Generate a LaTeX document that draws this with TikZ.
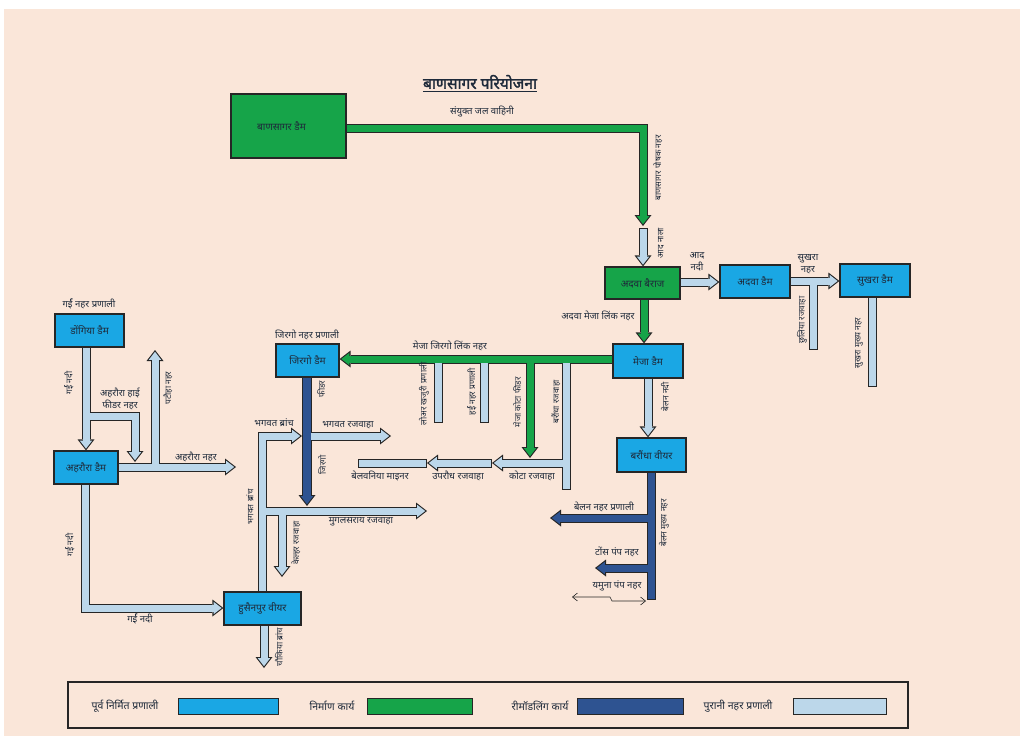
\documentclass[tikz,border=0pt]{standalone}
\usepackage{fontspec}
\newfontfamily\dev[Script=Devanagari]{Noto Sans}
\newfontfamily\devb[Script=Devanagari,FakeBold=2]{Noto Sans}
\usetikzlibrary{arrows.meta,calc}
\pgfdeclarelayer{bg}\pgfdeclarelayer{outl}\pgfdeclarelayer{fg}
\pgfsetlayers{bg,outl,main,fg}
\definecolor{peach}{HTML}{FAE6D9}
\definecolor{boxblue}{HTML}{1AA7E4}
\definecolor{cgreen}{HTML}{16A449}
\definecolor{dblue}{HTML}{2E5391}
\definecolor{lblue}{HTML}{BCD7EA}
\definecolor{edge}{HTML}{262626}
\definecolor{txt}{HTML}{1E2A3A}
\def\cwo{9pt}\def\cwi{7pt}
\tikzset{
  lbl/.style={font=\dev\fontsize{9.5}{12}\selectfont, text=txt, inner sep=0pt, align=center},
  vlbl/.style={font=\dev\fontsize{8.5}{10}\selectfont, text=txt, inner sep=0pt, rotate=90},
  dam/.style={draw=edge, line width=1.2pt, fill=boxblue, font=\dev\fontsize{10}{12}\selectfont, text=txt, inner sep=0pt},
  leglbl/.style={font=\dev\fontsize{10.5}{12}\selectfont, text=txt, inner sep=0pt},
  swatch/.style={draw=edge, line width=1pt, minimum width=#1, minimum height=16pt, inner sep=0pt},
  canalout/.style={draw=edge, line width=\cwo},
  canalin/.style={line width=\cwi},
  aout/.style={-{Triangle[width=17pt,length=11pt,line width=0pt]}},
  ain/.style={-{Triangle[width=12.4pt,length=8pt,line width=0pt]}, shorten >=1.8pt},
}
% #1 inner-only options, #2 colour, #3 path
\newcommand\cflat[3][]{%
  \begin{pgfonlayer}{outl}\draw[canalout] #3;\end{pgfonlayer}%
  \draw[canalin,draw=#2,shorten >=1pt,#1] #3;}
\newcommand\carrow[3][]{%
  \begin{pgfonlayer}{outl}\draw[canalout,aout] #3;\end{pgfonlayer}%
  \draw[canalin,draw=#2,ain,#1] #3;}
\begin{document}
\begin{tikzpicture}[x=1pt,y=-1pt]
\begin{pgfonlayer}{bg}
  \fill[white] (0,0) rectangle (1027,736);
  \fill[peach] (4,9) rectangle (1020,736);
\end{pgfonlayer}
\useasboundingbox (0,0) rectangle (1027,736);

% ---------- boxes ----------
\begin{pgfonlayer}{fg}
\node[dam, fill=cgreen, minimum width=115pt, minimum height=64pt] (ban) at (288.5,126) {\hspace*{-14pt}बाणसागर डैम};
\node[dam, fill=cgreen, minimum width=75pt, minimum height=32pt] (adb) at (642.5,283) {अदवा बैराज};
\node[dam, minimum width=70pt, minimum height=33pt] (add) at (755,281.5) {अदवा डैम};
\node[dam, minimum width=70pt, minimum height=33pt] (sud) at (875,280.5) {सुखरा डैम};
\node[dam, minimum width=70pt, minimum height=34pt] (med) at (648,361) {मेजा डैम};
\node[dam, minimum width=69pt, minimum height=34pt] (bw) at (651.5,455) {बरौंधा वीयर};
\node[dam, minimum width=63pt, minimum height=33pt] (jd) at (307.5,360.5) {जिरगो डैम};
\node[dam, minimum width=69pt, minimum height=33pt] (dd) at (89.5,330.5) {डोंगिया डैम};
\node[dam, minimum width=64pt, minimum height=33pt] (ad) at (86,467.5) {अहरौरा डैम};
\node[dam, minimum width=77pt, minimum height=33pt] (hw) at (262.5,608.5) {हुसैनपुर वीयर};
\end{pgfonlayer}

% ---------- coordinates ----------
\coordinate (k1) at (643,128);
\coordinate (k1e) at (643,226);
\coordinate (aad) at (643,228);
\coordinate (c3) at (644,300);
\coordinate (c4) at (700,282);
\coordinate (c5) at (813,281);
\coordinate (c5e) at (813,350);
\coordinate (c6) at (872,387);
\coordinate (c7) at (500,359);
\coordinate (b1) at (438,359); \coordinate (b1e) at (438,423);
\coordinate (b2) at (484,359); \coordinate (b2e) at (484,423);
\coordinate (b3) at (530,359); \coordinate (b3e) at (530,458);
\coordinate (b4) at (566,359); \coordinate (b4e) at (566,490);
\coordinate (kt1) at (566,463); \coordinate (kt2) at (492,463);
\coordinate (up1) at (492,463); \coordinate (up2) at (427,463);
\coordinate (bv1) at (427,463); \coordinate (bv2) at (358,463);
\coordinate (bn) at (648,400);
\coordinate (bm) at (651,600);
\coordinate (bl1) at (651,518); \coordinate (bl2) at (550,518);
\coordinate (tp1) at (651,568); \coordinate (tp2) at (595,568);
\coordinate (y1) at (572,597); \coordinate (y2) at (610,597);
\coordinate (y3) at (612,601); \coordinate (y4) at (646,601);
\coordinate (jc) at (307,506);
\coordinate (bh1) at (262,436); \coordinate (bh2) at (302,436);
\coordinate (br1) at (307,436); \coordinate (br2) at (391,436);
\coordinate (mg1) at (262,511); \coordinate (mg2) at (427,511);
\coordinate (kl1) at (282,511); \coordinate (kl2) at (282,577);
\coordinate (g1) at (86,416); \coordinate (g2) at (135,416); \coordinate (g3) at (135,462);
\coordinate (a1) at (155,467); \coordinate (a1e) at (155,350); \coordinate (a2) at (236,467);
\coordinate (r1) at (85,608);
\coordinate (ch) at (264,668);

% ---------- canals ----------
\carrow{cgreen}{(ban.east |- k1) -- (k1) -- (k1e)}
\carrow[shorten <=1pt]{lblue}{(aad) -- (aad |- adb.north)}
\carrow{cgreen}{(adb.south -| c3) -- (med.north -| c3)}
\carrow{lblue}{(adb.east |- c4) -- (add.west |- c4)}
\carrow{lblue}{(add.east |- c5) -- (sud.west |- c5)}
\cflat{lblue}{(c5) -- (c5e)}
\cflat{lblue}{(sud.south -| c6) -- (c6)}
% Meja - Jirgo link and branches
\cflat{lblue}{(b1) -- (b1e)}
\cflat{lblue}{(b2) -- (b2e)}
\cflat{lblue}{(b4) -- (b4e)}
\carrow{cgreen}{(b3) -- (b3e)}
\carrow{cgreen}{(med.west |- c7) -- (jd.east |- c7)}
\cflat[shorten <=1pt]{lblue}{(bv1) -- (bv2)}
\carrow[shorten <=1pt]{lblue}{(up1) -- (up2)}
\carrow{lblue}{(kt1) -- (kt2)}
% Belan
\carrow{lblue}{(med.south -| bn) -- (bw.north -| bn)}
\carrow{dblue}{(bl1) -- (bl2)}
\carrow{dblue}{(tp1) -- (tp2)}
\cflat{dblue}{(bw.south -| bm) -- (bm)}
\draw[line width=0.6pt, edge, {Straight Barb[length=5pt,width=8pt]}-{Straight Barb[length=5pt,width=8pt]}] (y1) -- (y2) -- (y3) -- (y4);
% Jirgo system
\carrow{lblue}{(hw.north -| bh1) -- (bh1) -- (bh2)}
\carrow{lblue}{(br1) -- (br2)}
\carrow{lblue}{(kl1) -- (kl2)}
\carrow{lblue}{(mg1) -- (mg2)}
\def\cwo{10.5pt}\def\cwi{8.5pt}
\carrow{dblue}{(jd.south -| jc) -- (jc)}
\def\cwo{9pt}\def\cwi{7pt}
\carrow{lblue}{(hw.south -| ch) -- (ch)}
% Garai system
\carrow{lblue}{(g1) -- (g2) -- (g3)}
\carrow{lblue}{(dd.south -| g1) -- (ad.north -| g1)}
\carrow{lblue}{(a1) -- (a1e)}
\carrow{lblue}{(ad.east |- a1) -- (a2)}
\carrow{lblue}{(ad.south -| r1) -- (r1) -- (hw.west |- r1)}

% ---------- labels ----------
\node[font=\devb\fontsize{15.5}{17}\selectfont, text=txt, inner sep=0pt] (title) at (480,82) {बाणसागर परियोजना};
\draw[line width=0.9pt, txt] ([yshift=-2pt]title.south west) -- ([yshift=-2pt]title.south east);
\node[lbl] (l1) at (482,112) {संयुक्त जल वाहिनी};
\node[vlbl] (l2) at (658,168) {बाणसागर पोषक नहर};
\node[vlbl] (l3) at (661,243) {आद नाला};
\node[lbl] (l4) at (697,262) {आद\\नदी};
\node[lbl] (l5) at (808,264) {सुखरा\\नहर};
\node[vlbl] (l6) at (802,320) {छुलिया रजवाहा};
\node[vlbl] (l7) at (859,343) {सुखरा मुख्य नहर};
\node[lbl] (l8) at (598,316) {अदवा मेजा लिंक नहर};
\node[lbl] (l9) at (450,346) {मेजा जिरगो लिंक नहर};
\node[lbl] (l10) at (307,335) {जिरगो नहर प्रणाली};
\node[vlbl] (l11) at (321,389) {फीडर};
\node[vlbl] (l12) at (322,465) {जिरगो};
\node[lbl] (l13) at (274,423) {भगवत ब्रांच};
\node[lbl] (l14) at (348,425) {भगवत रजवाहा};
\node[lbl] (l15) at (380,476) {बेलवनिया माइनर};
\node[lbl] (l16) at (458,476) {उपरौध रजवाहा};
\node[lbl] (l17) at (532,476) {कोटा रजवाहा};
\node[vlbl] (l18) at (424,394) {लोअर खजुरी प्रणाली};
\node[vlbl] (l19) at (472,392) {हर्ई नहर प्रणाली};
\node[vlbl] (l20) at (517,402) {मेजा कोटा फीडर};
\node[vlbl] (l21) at (556,402) {बरौंधा रजवाहा};
\node[vlbl] (l22) at (665,397) {बेलन नदी};
\node[vlbl] (l23) at (664,523) {बेलन मुख्य नहर};
\node[lbl] (l24) at (604,507) {बेलन नहर प्रणाली};
\node[lbl] (l25) at (617,552) {टोंस पंप नहर};
\node[lbl] (l26) at (617,586) {यमुना पंप नहर};
\node[lbl] (l27) at (89,304) {गर्ई नहर प्रणाली};
\node[vlbl] (l28) at (69,383) {गर्ई नदी};
\node[lbl] (l29) at (120,399) {अहरौरा हाई\\फीडर नहर};
\node[vlbl] (l30) at (168,388) {पटौहा नहर};
\node[lbl] (l31) at (196,457) {अहरौरा नहर};
\node[vlbl] (l32) at (70,545) {गर्ई नदी};
\node[lbl] (l33) at (140,619) {गर्ई नदी};
\node[vlbl] (l34) at (250,507) {भगवत ब्रांच};
\node[vlbl] (l35) at (296,543) {केल्हर रजवाहा};
\node[lbl] (l36) at (361,522) {मुगलसराय रजवाहा};
\node[vlbl] (l37) at (279,647) {चौकिया ब्रांच};

% ---------- legend ----------
\node[draw=edge, line width=1.8pt, fill=peach, minimum width=840pt, minimum height=46pt, inner sep=0pt] (leg) at (488,705) {};
\node[leglbl] (t1) at (125,706) {पूर्व निर्मित प्रणाली};
\node[swatch=100pt, fill=boxblue] (s1) at (228,706) {};
\node[leglbl] (t2) at (332,706) {निर्माण कार्य};
\node[swatch=105pt, fill=cgreen] (s2) at (420,706) {};
\node[leglbl] (t3) at (540,706) {रीमॉडलिंग कार्य};
\node[swatch=106pt, fill=dblue] (s3) at (630,706) {};
\node[leglbl] (t4) at (738,706) {पुरानी नहर प्रणाली};
\node[swatch=93pt, fill=lblue] (s4) at (840,706) {};
\end{tikzpicture}
\end{document}
